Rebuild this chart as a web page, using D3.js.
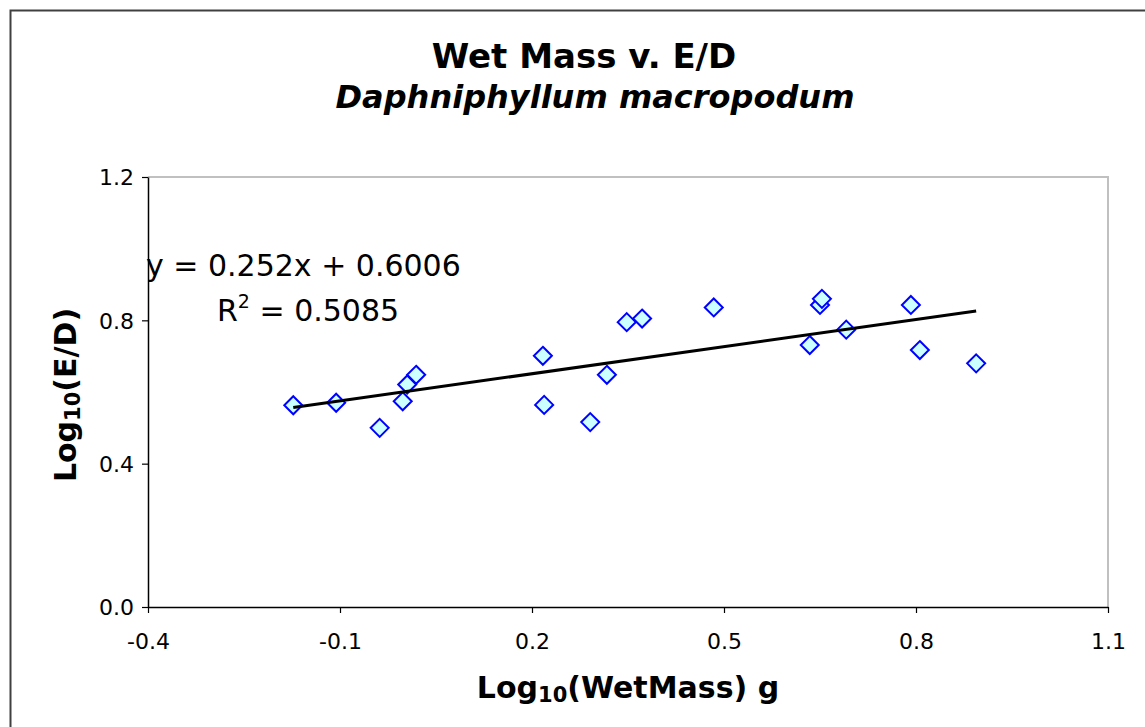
<!DOCTYPE html>
<html>
<head>
<meta charset="utf-8">
<script src="https://cdn.jsdelivr.net/npm/d3@7"></script>
<style>
  body { margin: 0; background: #fff; }
  svg { display: block; font-family: "DejaVu Sans", Verdana, sans-serif; }
</style>
</head>
<body>
<svg id="chart" width="1145" height="727"></svg>
<script>
var w = 1145;
var h = 727;
var margin = { top: 177, right: 37, bottom: 120, left: 148 };

// log10 wet mass (g)
var logMass = [-0.173, -0.106, -0.038, -0.002, 0.005, 0.019, 0.217, 0.219, 0.291, 0.317,
  0.348, 0.372, 0.484, 0.634, 0.650, 0.653, 0.691, 0.792, 0.806, 0.894];
// log10 E/D
var logED = [0.563, 0.570, 0.500, 0.574, 0.621, 0.648, 0.701, 0.564, 0.516, 0.648,
  0.795, 0.805, 0.836, 0.731, 0.843, 0.860, 0.774, 0.843, 0.717, 0.680];

var xTicks = [-0.4, -0.1, 0.2, 0.5, 0.8, 1.1];
var yTicks = [0.0, 0.4, 0.8, 1.2];
var slope = 0.252, intercept = 0.6006, r2 = 0.5085;

var svg = d3.select("#chart");

// outer chart border
svg.append("rect")
  .attr("x", 10.5).attr("y", 10.5)
  .attr("width", w).attr("height", h)
  .attr("fill", "none")
  .attr("stroke", "#404040")
  .attr("stroke-width", 2);

var xScale = d3.scaleLinear()
  .domain([-0.4, 1.1])
  .range([margin.left, w - margin.right]);

var yScale = d3.scaleLinear()
  .domain([0, 1.2])
  .range([h - margin.bottom, margin.top]);

// plot area border (top/right grey)
svg.append("path")
  .attr("d", "M" + xScale(-0.4) + "," + yScale(1.2) + "H" + xScale(1.1) + "V" + yScale(0))
  .attr("fill", "none")
  .attr("stroke", "#c0c0c0")
  .attr("stroke-width", 2);

var fmt = function(d) { return d.toFixed(1); };

// axes
var xAxis = svg.append("g")
  .attr("transform", "translate(0," + yScale(0) + ")")
  .call(d3.axisBottom(xScale).tickValues(xTicks).tickSize(6).tickSizeOuter(0).tickFormat(fmt));

var yAxis = svg.append("g")
  .attr("transform", "translate(" + xScale(-0.4) + ",0)")
  .call(d3.axisLeft(yScale).tickValues(yTicks).tickSize(6).tickSizeOuter(0).tickFormat(fmt));

[xAxis, yAxis].forEach(function(a) {
  a.attr("font-size", 22).attr("font-family", "DejaVu Sans, Verdana, sans-serif");
  a.select(".domain").attr("stroke", "#000").attr("stroke-width", 1.5);
  a.selectAll(".tick line").attr("stroke", "#000").attr("stroke-width", 1.2);
  a.selectAll(".tick text").attr("fill", "#000");
});
xAxis.selectAll(".tick text").attr("y", 0).attr("dy", 42);
yAxis.selectAll(".tick text").attr("x", -14).attr("dy", "0.36em");

// points
var data = logMass.map(function(x, i) { return { x: x, y: logED[i] }; });

svg.append("g")
  .selectAll("path")
  .data(data)
  .enter()
  .append("path")
  .attr("transform", function(d) {
    return "translate(" + xScale(d.x) + "," + yScale(d.y) + ")";
  })
  .attr("d", "M0,-9L9,0L0,9L-9,0Z")
  .attr("fill", "#ccffff")
  .attr("stroke", "#0000ff")
  .attr("stroke-width", 2);

// trendline
var xr = d3.extent(logMass);
svg.append("line")
  .attr("x1", xScale(xr[0])).attr("y1", yScale(slope * xr[0] + intercept))
  .attr("x2", xScale(xr[1])).attr("y2", yScale(slope * xr[1] + intercept))
  .attr("stroke", "#000")
  .attr("stroke-width", 3);

// equation
svg.append("text")
  .attr("x", 146).attr("y", 276)
  .style("font-size", "30px")
  .text("y = " + slope + "x + " + intercept);

var r2Text = svg.append("text")
  .attr("x", 217).attr("y", 321)
  .style("font-size", "30px");
r2Text.append("tspan").text("R");
r2Text.append("tspan").attr("dy", -13).style("font-size", "19px").text("2");
r2Text.append("tspan").attr("dy", 13).text(" = " + r2);

// titles
svg.append("text")
  .attr("x", 584).attr("y", 68)
  .attr("text-anchor", "middle")
  .style("font-size", "34px").style("font-weight", "bold")
  .text("Wet Mass v. E/D");

svg.append("text")
  .attr("x", 595).attr("y", 108)
  .attr("text-anchor", "middle")
  .style("font-size", "32px").style("font-weight", "bold").style("font-style", "italic")
  .text("Daphniphyllum macropodum");

// axis titles
var xt = svg.append("text")
  .attr("x", 628).attr("y", 698)
  .attr("text-anchor", "middle")
  .style("font-size", "30px").style("font-weight", "bold");
xt.append("tspan").text("Log");
xt.append("tspan").attr("dy", 4).style("font-size", "21px").text("10");
xt.append("tspan").attr("dy", -4).text("(WetMass) g");

var yt = svg.append("text")
  .attr("transform", "translate(76,395) rotate(-90)")
  .attr("text-anchor", "middle")
  .style("font-size", "30px").style("font-weight", "bold");
yt.append("tspan").text("Log");
yt.append("tspan").attr("dy", 4).style("font-size", "21px").text("10");
yt.append("tspan").attr("dy", -4).text("(E/D)");
</script>
</body>
</html>
